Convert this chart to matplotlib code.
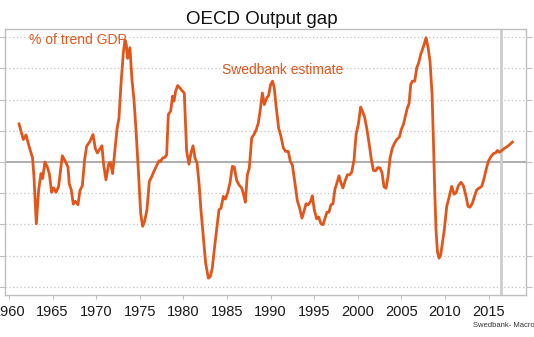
import numpy as np
import matplotlib.pyplot as plt

plt.rcParams['font.family'] = ['Liberation Sans', 'DejaVu Sans']

# OECD output gap, % of trend GDP
years = [1961.15, 1961.64, 1961.95, 1962.3, 1962.7, 1962.86, 1963.13, 1963.4, 1963.67, 1963.86,
         1964.12, 1964.39, 1964.62, 1964.89, 1965.12, 1965.39, 1965.69, 1966.11, 1966.46, 1966.76,
         1966.91, 1967.14, 1967.37, 1967.6, 1967.91, 1968.14, 1968.41, 1968.67, 1968.9, 1969.28,
         1969.63, 1969.9, 1970.13, 1970.43, 1970.66, 1970.85, 1971.12, 1971.43, 1971.62, 1971.88,
         1972.11, 1972.38, 1972.61, 1972.84, 1973.11, 1973.3, 1973.45, 1973.6, 1973.87, 1974.1,
         1974.33, 1974.56, 1974.83, 1975.1, 1975.32, 1975.55, 1975.82, 1976.09, 1976.35, 1976.62,
         1976.93, 1977.2, 1977.39, 1977.62, 1977.89, 1978.08, 1978.27, 1978.54, 1978.76, 1978.92,
         1979.11, 1979.34, 1979.6, 1979.83, 1980.1, 1980.37, 1980.64, 1980.87, 1981.1, 1981.33,
         1981.56, 1981.79, 1982.01, 1982.28, 1982.55, 1982.86, 1983.09, 1983.31, 1983.54, 1983.81,
         1984.08, 1984.31, 1984.58, 1984.81, 1985.07, 1985.34, 1985.61, 1985.84, 1986.11, 1986.37,
         1986.68, 1986.91, 1987.1, 1987.33, 1987.56, 1987.83, 1988.09, 1988.36, 1988.59, 1988.82,
         1989.05, 1989.28, 1989.55, 1989.77, 1990.0, 1990.23, 1990.42, 1990.65, 1990.92, 1991.19,
         1991.46, 1991.72, 1992.03, 1992.26, 1992.49, 1992.79, 1993.06, 1993.33, 1993.6, 1993.83,
         1994.06, 1994.32, 1994.59, 1994.78, 1995.01, 1995.28, 1995.51, 1995.78, 1996.01, 1996.24,
         1996.46, 1996.69, 1996.92, 1997.15, 1997.38, 1997.61, 1997.84, 1998.07, 1998.3, 1998.53,
         1998.8, 1999.06, 1999.3, 1999.57, 1999.8, 2000.07, 2000.33, 2000.56, 2000.79, 2001.02,
         2001.29, 2001.56, 2001.79, 2002.05, 2002.28, 2002.55, 2002.78, 2003.01, 2003.24, 2003.47,
         2003.7, 2003.96, 2004.23, 2004.46, 2004.77, 2004.99, 2005.23, 2005.46, 2005.68, 2005.88,
         2006.07, 2006.26, 2006.53, 2006.76, 2006.99, 2007.21, 2007.44, 2007.6, 2007.83, 2008.06,
         2008.28, 2008.51, 2008.67, 2008.82, 2008.97, 2009.13, 2009.32, 2009.51, 2009.7, 2009.93,
         2010.2, 2010.5, 2010.77, 2011.04, 2011.27, 2011.53, 2011.84, 2012.11, 2012.37, 2012.64,
         2012.87, 2013.14, 2013.41, 2013.64, 2013.94, 2014.21, 2014.44, 2014.71, 2014.97, 2015.24,
         2015.55, 2015.81, 2016.01, 2016.24, 2016.5, 2016.89, 2017.27, 2017.73]
gap = [1.22, 0.72, 0.87, 0.50, 0.13, -0.46, -1.98, -0.89, -0.37, -0.53,
       0.0, -0.16, -0.37, -0.97, -0.83, -0.97, -0.78, 0.20, 0.02, -0.16,
       -0.70, -0.89, -1.35, -1.26, -1.37, -0.91, -0.76, 0.07, 0.50, 0.66,
       0.88, 0.43, 0.29, 0.42, 0.52, -0.09, -0.57, -0.06, -0.01, -0.37,
       0.29, 1.04, 1.41, 2.48, 3.50, 3.90, 3.76, 3.32, 3.66, 2.64,
       2.0, 1.04, -0.25, -1.64, -2.06, -1.90, -1.53, -0.62, -0.48, -0.30,
       -0.12, 0.04, 0.02, 0.13, 0.15, 0.24, 1.52, 1.63, 2.11, 1.95,
       2.27, 2.45, 2.37, 2.29, 2.21, 0.35, -0.07, 0.29, 0.52, 0.13,
       -0.03, -0.67, -1.53, -2.39, -3.24, -3.72, -3.67, -3.40, -2.81, -2.17,
       -1.53, -1.48, -1.10, -1.19, -0.99, -0.67, -0.14, -0.16, -0.59, -0.73,
       -0.83, -1.05, -1.29, -0.41, -0.19, 0.77, 0.88, 1.04, 1.25, 1.68,
       2.21, 1.84, 2.05, 2.13, 2.48, 2.59, 2.37, 1.73, 1.09, 0.82,
       0.45, 0.34, 0.34, 0.02, -0.09, -0.67, -1.23, -1.48, -1.80, -1.58,
       -1.34, -1.37, -1.26, -1.08, -1.53, -1.82, -1.76, -1.98, -2.01, -1.80,
       -1.61, -1.61, -1.37, -1.34, -0.87, -0.67, -0.44, -0.67, -0.83, -0.62,
       -0.41, -0.41, -0.33, 0.07, 0.88, 1.22, 1.76, 1.61, 1.43, 1.09,
       0.61, 0.07, -0.27, -0.28, -0.18, -0.19, -0.35, -0.80, -0.84, -0.46,
       0.13, 0.45, 0.61, 0.72, 0.80, 1.04, 1.20, 1.47, 1.73, 1.87,
       2.48, 2.59, 2.59, 3.02, 3.18, 3.44, 3.63, 3.76, 3.98, 3.66,
       3.23, 2.21, 0.72, -0.89, -2.17, -2.87, -3.08, -2.97, -2.60, -2.15,
       -1.42, -1.10, -0.78, -1.03, -0.99, -0.76, -0.65, -0.76, -1.05, -1.42,
       -1.45, -1.32, -1.08, -0.89, -0.83, -0.78, -0.57, -0.25, 0.02, 0.16,
       0.27, 0.29, 0.37, 0.31, 0.37, 0.45, 0.52, 0.64]
forecast_start = 2016.4
xticks = [1960, 1965, 1970, 1975, 1980, 1985, 1990, 1995, 2000, 2005, 2010, 2015]
yticks = [-4, -3, -2, -1, 0, 1, 2, 3, 4]

orange = '#E2561C'
gray = '#bfbfbf'

fig = plt.figure(figsize=(5.34, 3.37), dpi=100)
ax = fig.add_axes([5/534, 1-295/337, 521/534, 266/337])

for v in yticks:
    if v == 0:
        ax.axhline(v, color='#999999', lw=1.1, zorder=1)
    else:
        ax.axhline(v, color='#c4c4c4', lw=0.9, ls=(0, (1, 2)), zorder=1)
ax.axvline(forecast_start, color='#cccccc', lw=2, zorder=1)

ax.plot(years, gap, color=orange, lw=2.0, zorder=3)

ax.set_xlim(1959.54, 2019.29)
ax.set_ylim(-4.26, 4.26)
ax.set_xticks(xticks)
ax.set_yticks(yticks)
ax.tick_params(axis='x', direction='out', length=3, color=gray, labelsize=10.5,
               labelcolor='#1a1a1a', pad=4)
# right-hand labels sit mostly outside the picture, as in the original
ax.tick_params(axis='y', direction='out', length=4, color=gray, left=True,
               right=True, labelleft=False, labelright=True, labelsize=9,
               labelcolor=orange, pad=2)
ax.set_yticklabels([str(v) for v in yticks])
for s in ax.spines.values():
    s.set_color(gray)
    s.set_linewidth(1)

fig.text(262/534, 1-24/337, 'OECD Output gap', fontsize=13.5, ha='center',
         va='baseline', color='#111111')
fig.text(29/534, 1-43.5/337, '% of trend GDP', fontsize=10, ha='left',
         va='baseline', color=orange)
fig.text(222/534, 1-73.5/337, 'Swedbank estimate', fontsize=10, ha='left',
         va='baseline', color=orange)
fig.text(473/534, 1-327/337, 'Swedbank- Macrobond', fontsize=5.5, ha='left',
         va='baseline', color='#333333')

fig.savefig('out.png', dpi=100)
